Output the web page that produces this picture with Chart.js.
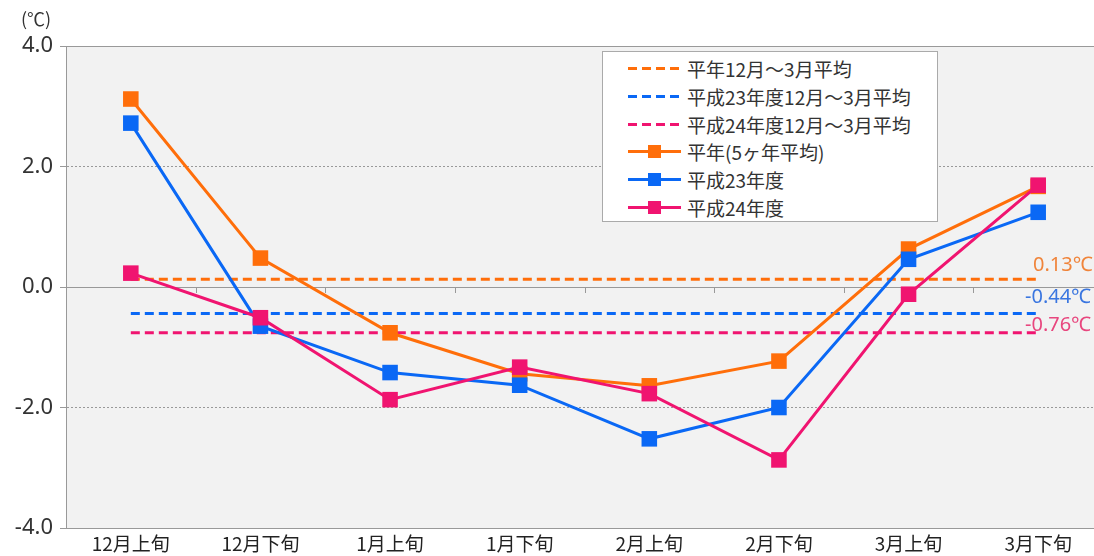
<!DOCTYPE html>
<html><head><meta charset="utf-8">
<script src="https://cdn.jsdelivr.net/npm/chart.js@4"></script>
<style>
html,body{margin:0;padding:0;background:#fff;overflow:hidden;width:1094px;height:556px}
#wrap{position:relative;width:1094px;height:556px;overflow:hidden}
#c{position:absolute;left:0;top:0}
#unit{position:absolute;left:21px;top:8px;font:18px "Noto Sans CJK JP";color:#333;line-height:20px}
#legend{position:absolute;left:602px;top:51px;width:336px;height:171px;border:1px solid #aaa;background:#fff;box-sizing:border-box;font-family:"Noto Sans CJK JP";font-size:19px;color:#333}
.row{position:absolute;left:0;height:22px;width:330px}
.samp{position:absolute;left:25px;top:9px;width:53px;height:3px}
.sq{position:absolute;left:20px;top:-5px;width:13px;height:13px}
.txt{position:absolute;left:84px;top:0;line-height:22px;white-space:nowrap}
</style></head>
<body><div id="wrap">
<canvas id="c" width="1114" height="556"></canvas>
<div id="unit">(℃)</div>
<div id="legend"></div>
</div>
<script>
const categories = ['12月上旬','12月下旬','1月上旬','1月下旬','2月上旬','2月下旬','3月上旬','3月下旬'];
const normalValues = [3.12, 0.48, -0.76, -1.44, -1.64, -1.23, 0.63, 1.67];
const h23Values = [2.72, -0.65, -1.42, -1.63, -2.52, -2.00, 0.46, 1.24];
const h24Values = [0.23, -0.51, -1.87, -1.33, -1.77, -2.87, -0.12, 1.69];
const meanNormal = 0.13;
const meanH23 = -0.44;
const meanH24 = -0.76;
const meanLabels = ['0.13℃', '-0.44℃', '-0.76℃'];
const yTicks = [-4, -2, 0, 2, 4];

const ORANGE = '#FF6E0A', BLUE = '#0A68F5', PINK = '#F01470';

function meanLine(label, v, color, order) {
  return {label, data: [{x: categories[0], y: v}, {x: categories[categories.length-1], y: v}],
    borderColor: color, borderWidth: 3, borderDash: [9,5], pointRadius: 0, fill: false, order, kind: 'dash'};
}
function series(label, data, color, order) {
  return {label, data, borderColor: color, backgroundColor: color, borderWidth: 3,
    pointStyle: 'rect', pointRadius: 11, pointHoverRadius: 11, pointBorderWidth: 0, fill: false, order, tension: 0, kind: 'solid'};
}
const datasets = [
  meanLine('平年12月～3月平均', meanNormal, ORANGE, 5),
  meanLine('平成23年度12月～3月平均', meanH23, BLUE, 4),
  meanLine('平成24年度12月～3月平均', meanH24, PINK, 3),
  series('平年(5ヶ年平均)', normalValues, ORANGE, 2),
  series('平成23年度', h23Values, BLUE, 1),
  series('平成24年度', h24Values, PINK, 0)
];

const bgPlugin = {
  id: 'bg',
  beforeDraw(chart) {
    const a = chart.chartArea, ctx = chart.ctx;
    ctx.save(); ctx.fillStyle = '#F2F2F2';
    ctx.fillRect(a.left, a.top, a.right - a.left, a.bottom - a.top);
    ctx.restore();
  },
  beforeDatasetsDraw(chart) {
    const x = chart.scales.x, y = chart.scales.y, ctx = chart.ctx;
    const y0 = y.getPixelForValue(0);
    ctx.save(); ctx.strokeStyle = '#999'; ctx.lineWidth = 1;
    for (let i = 1; i < categories.length; i++) {
      const px = Math.round((x.getPixelForValue(i-1) + x.getPixelForValue(i)) / 2) + 0.5;
      ctx.beginPath(); ctx.moveTo(px, y0); ctx.lineTo(px, y0 + 6); ctx.stroke();
    }
    ctx.restore();
  },
  afterDatasetsDraw(chart) {
    const y = chart.scales.y, ctx = chart.ctx;
    const vals = [meanNormal, meanH23, meanH24];
    const cols = ['#F0843A', '#3A76E0', '#E8467E'];
    const offs = [-14, -16, -7];
    ctx.save();
    ctx.font = '20px "Noto Sans"'; ctx.textAlign = 'left'; ctx.textBaseline = 'middle';
    const xs = [1033, 1025, 1025];
    vals.forEach((v, i) => {
      ctx.fillStyle = cols[i];
      ctx.fillText(meanLabels[i], xs[i], y.getPixelForValue(v) + offs[i]);
    });
    ctx.restore();
  }
};

new Chart(document.getElementById('c'), {
  type: 'line',
  data: {labels: categories, datasets},
  plugins: [bgPlugin],
  options: {
    responsive: false, animation: false, devicePixelRatio: 1,
    layout: {padding: {top: 46, right: 0, left: 0, bottom: 0}},
    plugins: {legend: {display: false}, tooltip: {enabled: false}},
    scales: {
      x: {
        offset: true,
        grid: {display: false, drawTicks: false},
        border: {display: false},
        ticks: {color: '#222', font: {family: 'Noto Sans CJK JP', size: 19}, padding: 4, maxRotation: 0, autoSkip: false},
        afterFit(s) { s.height = 28; }
      },
      y: {
        min: -4, max: 4,
        afterBuildTicks(s) { s.ticks = yTicks.map(v => ({value: v})); },
        grid: {color: '#999', lineWidth: 1, tickLength: 6, drawTicks: true},
        border: {display: true, color: '#999', width: 1,
          dash: ctx => (ctx.tick && (ctx.tick.value === 2 || ctx.tick.value === -2)) ? [2, 2] : []},
        ticks: {color: '#333', font: {family: 'Noto Sans', size: 22}, padding: 7,
          callback: v => Number(v).toFixed(1)},
        afterFit(s) { s.width = 66; }
      }
    }
  }
});

const leg = document.getElementById('legend');
datasets.forEach((d, i) => {
  const row = document.createElement('div');
  row.className = 'row';
  row.style.top = (6 + i * 27.8) + 'px';
  const s = document.createElement('div');
  s.className = 'samp';
  if (d.kind === 'dash') {
    s.style.background = `repeating-linear-gradient(to right, ${d.borderColor} 0 9px, transparent 9px 14px)`;
  } else {
    s.style.background = d.borderColor;
    const q = document.createElement('div');
    q.className = 'sq'; q.style.background = d.borderColor;
    s.appendChild(q);
  }
  const t = document.createElement('div');
  t.className = 'txt'; t.textContent = d.label;
  row.appendChild(s); row.appendChild(t);
  leg.appendChild(row);
});
</script>
</body></html>
